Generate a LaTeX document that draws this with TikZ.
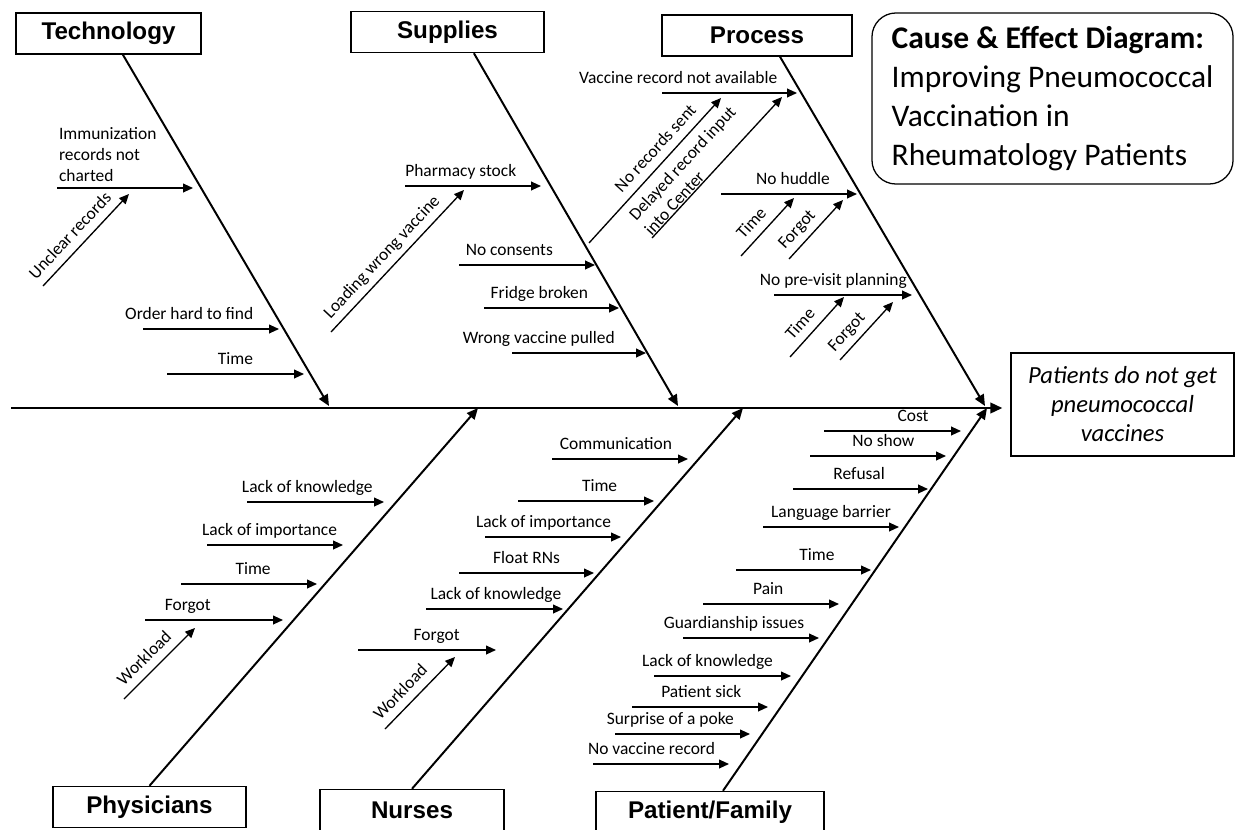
\documentclass[tikz,border=0pt]{standalone}
\usepackage{fontspec}
\setmainfont{Carlito}
\newfontfamily\headfont{Liberation Sans}
\usetikzlibrary{arrows.meta}

\tikzset{
  catbox/.style={draw, line width=0.9pt, minimum height=1.03cm, inner sep=0pt,
    font=\headfont\bfseries\fontsize{17.2}{20}\selectfont},
  spine/.style={line width=1.6pt, -{Triangle[length=8.5pt,width=7.5pt]}},
  bone/.style={line width=1.4pt, -{Triangle[length=8pt,width=7pt]}},
  cause/.style={line width=0.95pt, -{Triangle[length=7pt,width=6.2pt]}},
  txt/.style={font=\fontsize{12.4}{15}\selectfont, text depth=0pt, inner sep=1pt},
  lbl/.style={txt, above=5pt},
}

\begin{document}
\begin{tikzpicture}[x=0.025cm, y=-0.025cm]
\useasboundingbox (0,0) rectangle (1235,829);
\clip (0,0) rectangle (1235,829);

% category boxes
\node[catbox, minimum width=4.625cm] (tech) at (108.5,33.5) {Technology};
\node[catbox, minimum width=4.825cm] (sup) at (447.5,32) {Supplies};
\node[catbox, minimum width=4.75cm] (proc) at (757,35.5) {Process};
\node[catbox, minimum width=4.825cm] (phys) at (149.5,807) {Physicians};
\node[catbox, minimum width=4.6cm] (nurs) at (412,810) {Nurses};
\node[catbox, minimum width=5.7cm] (pat) at (710,812) {Patient/Family};

% title and effect
\node[draw, line width=0.9pt, rounded corners=0.6cm, minimum width=9.025cm, minimum height=4.275cm,
  align=left, font=\fontsize{22.4}{27.8}\selectfont] (title) at (1052.5,98.5)
  {\textbf{Cause \& Effect Diagram:}\\Improving Pneumococcal\\Vaccination in\\Rheumatology Patients};
\node[draw, line width=0.9pt, minimum width=5.575cm, minimum height=2.575cm, align=center,
  font=\itshape\fontsize{17.5}{20.6}\selectfont] (eff) at (1122.5,404.5)
  {Patients do not get\\pneumococcal\\vaccines};

% spine and main bones
\coordinate (s0) at (11,408);
\coordinate (tp1) at (329,406);
\coordinate (tp2) at (678,406);
\coordinate (tp3) at (985,406);
\coordinate (tp4) at (478,408);
\coordinate (tp5) at (743,408);
\coordinate (tp6) at (987,408);
\draw[spine, shorten >=0.2cm] (s0) -- (s0 -| eff.west);
\draw[bone] ([xshift=0.36cm]tech.south) -- (tp1);
\draw[bone] ([xshift=0.66cm]sup.south) -- (tp2);
\draw[bone] ([xshift=0.575cm]proc.south) -- (tp3);
\draw[bone] (phys.north) -- (tp4);
\draw[bone] (nurs.north) -- (tp5);
\draw[bone] ([xshift=0.325cm]pat.north) -- (tp6);

% Technology
\draw[cause] (57,188) -- node[lbl, pos=0, anchor=south west, align=left, yshift=-2pt] (imm) {Immunization\\records not\\charted} (193,188);
\draw[cause] (43,286) -- node[lbl, sloped, pos=.44] (unclear) {Unclear records} (129,194);
\draw[cause] (143,329) -- node[lbl, pos=.34] (order) {Order hard to find} (279,329);
\draw[cause] (167,374) -- node[lbl, pos=.5] (tktime) {Time} (304,374);

% Supplies
\draw[cause] (405,186) -- node[lbl, pos=.41] (pharm) {Pharmacy stock} (541,186);
\draw[cause] (331,332) -- node[lbl, sloped, pos=.46] (loading) {Loading wrong vaccine} (464,190);
\draw[cause] (459,265) -- node[lbl, pos=.37] (consent) {No consents} (595,265);
\draw[cause] (484,308) -- node[lbl, pos=.41] (fridge) {Fridge broken} (619,308);
\draw[cause] (512,353) -- node[lbl, pos=.2] (wrongvac) {Wrong vaccine pulled} (646,353);

% Process
\draw[cause] (662,93) -- node[lbl, pos=.12] (notavail) {Vaccine record not available} (797,93);
\draw[cause] (589,243) -- node[lbl, sloped, pos=.585] (nosent) {No records sent} (721,98);
\draw[cause] (652,238) -- node[txt, sloped, pos=0, anchor=south west, align=left, inner sep=0.5pt] (delayed) {Delayed record input\\into Center} (782,97);
\draw[cause] (721,194) -- node[lbl, pos=.53] (huddle) {No huddle} (857,194);
\draw[cause] (741,256) -- node[lbl, sloped, pos=.4] (hdtime) {Time} (794,198);
\draw[cause] (789,259) -- node[lbl, sloped, pos=.34] (hdforgot) {Forgot} (843,200);
\draw[cause] (774,295) -- node[lbl, pos=.43] (previsit) {No pre-visit planning} (912,295);
\draw[cause] (790,357) -- node[lbl, sloped, pos=.39] (pvtime) {Time} (844,297);
\draw[cause] (840,360) -- node[lbl, sloped, pos=.32] (pvforgot) {Forgot} (893,302);

% Physicians
\draw[cause] (247,502) -- node[lbl, pos=.44] (phknow) {Lack of knowledge} (384,502);
\draw[cause] (207,545) -- node[lbl, pos=.46] (phimp) {Lack of importance} (343,545);
\draw[cause] (181,584) -- node[lbl, pos=.53] (phtime) {Time} (317,584);
\draw[cause] (145,620) -- node[lbl, pos=.31] (phforgot) {Forgot} (283,620);
\draw[cause] (124,699) -- node[lbl, sloped, pos=.43] (phwork) {Workload} (195,628);

% Nurses
\draw[cause] (552,459) -- node[lbl, pos=.47] (nucomm) {Communication} (688,459);
\draw[cause] (518,501) -- node[lbl, pos=.6] (nutime) {Time} (654,501);
\draw[cause] (485,537) -- node[lbl, pos=.43] (nuimp) {Lack of importance} (621,537);
\draw[cause] (459,573) -- node[lbl, pos=.5] (nufloat) {Float RNs} (594,573);
\draw[cause] (426,609) -- node[lbl, pos=.51] (nuknow) {Lack of knowledge} (563,609);
\draw[cause] (358,650) -- node[lbl, pos=.57] (nuforgot) {Forgot} (496,650);
\draw[cause] (385,729) -- node[lbl, sloped, pos=.37] (nuwork) {Workload} (455,657);

% Patient/Family
\draw[cause] (824,431) -- node[lbl, pos=.65] (pfcost) {Cost} (961,431);
\draw[cause] (810,456) -- node[lbl, pos=.54] (pfshow) {No show} (946,456);
\draw[cause] (793,489) -- node[lbl, pos=.49] (pfrefuse) {Refusal} (928,489);
\draw[cause] (763,527) -- node[lbl, pos=.5] (pflang) {Language barrier} (899,527);
\draw[cause] (736,570) -- node[lbl, pos=.6] (pftime) {Time} (871,570);
\draw[cause] (703,604) -- node[lbl, pos=.48] (pfpain) {Pain} (839,604);
\draw[cause] (683,638) -- node[lbl, pos=.375] (pfguard) {Guardianship issues} (819,638);
\draw[cause] (654,676) -- node[lbl, pos=.39] (pfknow) {Lack of knowledge} (791,676);
\draw[cause] (632,707) -- node[lbl, pos=.51] (pfsick) {Patient sick} (768,707);
\draw[cause] (615,734) -- node[lbl, pos=.41] (pfpoke) {Surprise of a poke} (750,734);
\draw[cause] (593,764) -- node[lbl, pos=.43] (pfrecord) {No vaccine record} (729,764);
\end{tikzpicture}
\end{document}
